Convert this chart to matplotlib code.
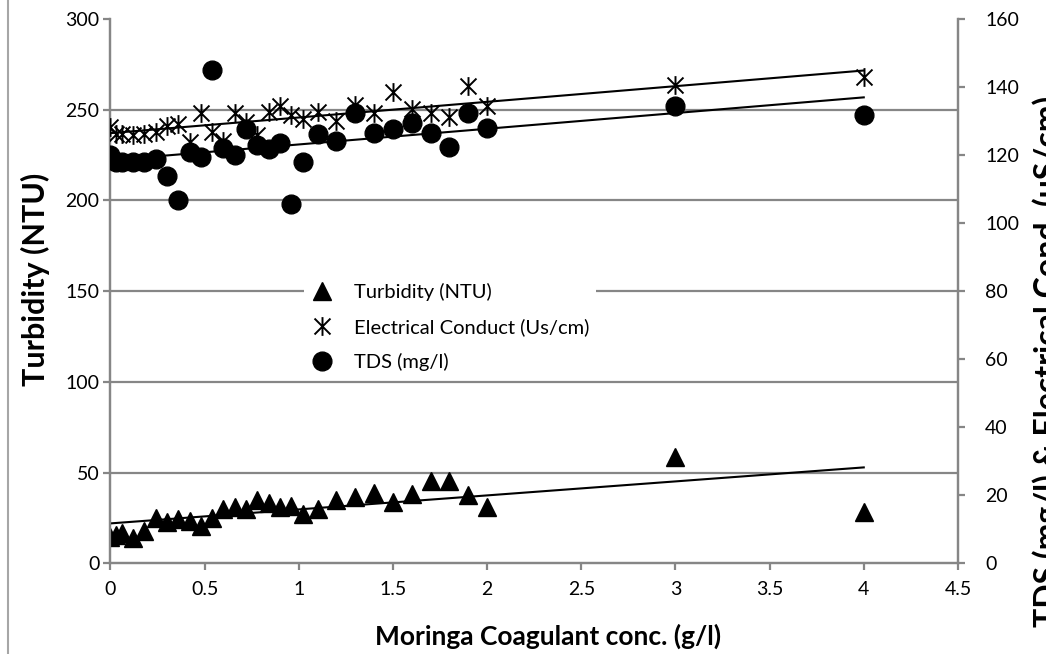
import numpy as np
import matplotlib
matplotlib.use("Agg")
import matplotlib.pyplot as plt
from matplotlib.path import Path
from matplotlib.lines import Line2D


# =========================
# DATA
# =========================

conc = [0, 0.03, 0.06, 0.12, 0.18, 0.24, 0.30, 0.36, 0.42, 0.48,
        0.54, 0.60, 0.66, 0.72, 0.78, 0.84, 0.90, 0.96, 1.02, 1.1,
        1.2, 1.3, 1.4, 1.5, 1.6, 1.7, 1.8, 1.9, 2.0, 3.0, 4.0]

turbidity = [14.7, 15.6, 16.5, 13.8, 18.0, 24.8, 23.0, 24.2, 23.5, 20.6,
             24.8, 29.8, 30.9, 29.8, 34.9, 33.4, 30.9, 31.6, 27.2, 29.9,
             34.9, 36.4, 38.6, 34.0, 38.2, 45.5, 45.2, 37.7, 30.9, 58.6, 28.3]

conductivity = [128.3, 126.2, 126.2, 125.9, 126.2, 126.9, 128.5, 129.1, 123.9, 132.3,
                126.9, 124.0, 132.3, 129.8, 125.9, 132.7, 134.3, 131.8, 130.5, 132.7,
                130.1, 134.7, 132.3, 138.6, 133.4, 132.3, 131.3, 140.4, 134.5, 140.5, 143.0]

tds = [120.0, 118.0, 118.0, 118.0, 118.0, 118.7, 113.8, 106.8, 121.0, 119.5,
       145.0, 122.0, 120.0, 127.6, 123.0, 121.7, 123.6, 105.6, 118.0, 126.2,
       124.2, 132.5, 126.4, 127.6, 129.3, 126.4, 122.5, 132.3, 127.9, 134.4, 131.8]

x_ticks = [0, 0.5, 1, 1.5, 2, 2.5, 3, 3.5, 4, 4.5]
x_tick_labels = ["0", "0.5", "1", "1.5", "2", "2.5", "3", "3.5", "4", "4.5"]
left_ticks = [0, 50, 100, 150, 200, 250, 300]
right_ticks = [0, 20, 40, 60, 80, 100, 120, 140, 160]

series_labels = ["Turbidity (NTU)", "Electrical Conduct (Us/cm)", "TDS (mg/l)"]


# =========================
# STYLE
# =========================

plt.rcParams["font.family"] = ["Lato", "DejaVu Sans"]

GRAY = "#868686"
TICK_SIZE = 14

# star marker: vertical bar crossed by an X
star = Path(
    [(0, -1), (0, 1), (-0.85, -0.85), (0.85, 0.85), (-0.85, 0.85), (0.85, -0.85)],
    [Path.MOVETO, Path.LINETO, Path.MOVETO, Path.LINETO, Path.MOVETO, Path.LINETO]
)


def trend(ax, x, y):
    # linear least squares line over the data range
    slope, intercept = np.polyfit(x, y, 1)
    xs = np.array([min(x), max(x)])
    ax.plot(xs, slope * xs + intercept, color="black", lw=1.5, zorder=3)


# =========================
# FIGURE
# =========================

fig = plt.figure(figsize=(10.46, 6.54), dpi=100)
ax = fig.add_axes([0.1056, 0.1387, 0.8102, 0.8323])
ax2 = ax.twinx()

ax.set_xlim(0, 4.5)
ax.set_ylim(0, 300)
ax2.set_ylim(0, 160)

for v in left_ticks[1:-1]:
    ax.axhline(v, color=GRAY, lw=1.6, zorder=0)

h1, = ax.plot(conc, turbidity, linestyle="none", marker="^",
              markersize=13, color="black", zorder=4)
trend(ax, conc, turbidity)

h2, = ax2.plot(conc, conductivity, linestyle="none", marker=star,
               markersize=13.5, markerfacecolor="none",
               markeredgecolor="black", markeredgewidth=1.4, zorder=4)
trend(ax2, conc, conductivity)

h3, = ax2.plot(conc, tds, linestyle="none", marker="o",
               markersize=13.5, color="black", zorder=4)
trend(ax2, conc, tds)

# axes, ticks
ax.set_xticks(x_ticks)
ax.set_xticklabels(x_tick_labels)
ax.set_yticks(left_ticks)
ax2.set_yticks(right_ticks)

for a in (ax, ax2):
    a.spines["top"].set_visible(False)
    for s in ("left", "right", "bottom"):
        a.spines[s].set_color(GRAY)
        a.spines[s].set_linewidth(1.6)

ax.tick_params(axis="x", direction="out", length=5, width=1.6,
               color=GRAY, labelsize=TICK_SIZE, pad=8)
ax.tick_params(axis="y", direction="out", length=5, width=1.6,
               color=GRAY, labelsize=TICK_SIZE, pad=3)
ax2.tick_params(axis="y", direction="out", length=5, width=1.6,
                color=GRAY, labelsize=TICK_SIZE, pad=14.5)

# axis titles
fig.text(548 / 1046, 1 - 636 / 654, "Moringa Coagulant conc. (g/l)",
         ha="center", va="center", fontsize=19, fontweight="bold")
fig.text(35 / 1046, 1 - 279 / 654, "Turbidity (NTU)", rotation=90,
         ha="center", va="center", fontsize=22, fontweight="bold")
fig.text(1048 / 1046, 1 - 361 / 654, "TDS (mg/l) & Electrical Cond. (uS/cm)",
         rotation=90, ha="center", va="center", fontsize=23, fontweight="bold")

# legend
leg = ax2.legend([h1, h2, h3], series_labels, loc="upper left",
                 bbox_to_anchor=(294 / 1046, 1 - 267 / 654),
                 bbox_transform=fig.transFigure, fontsize=14.5,
                 frameon=True, framealpha=1, edgecolor="none",
                 handlelength=1.2, handletextpad=1.0, labelspacing=0.85,
                 borderpad=0.3, fancybox=False)

# thin border at the far left of the chart area
fig.add_artist(Line2D([8 / 1046, 8 / 1046], [0, 1], transform=fig.transFigure,
                      color="#a6a6a6", lw=1.5))

fig.savefig("out.png", dpi=100)
